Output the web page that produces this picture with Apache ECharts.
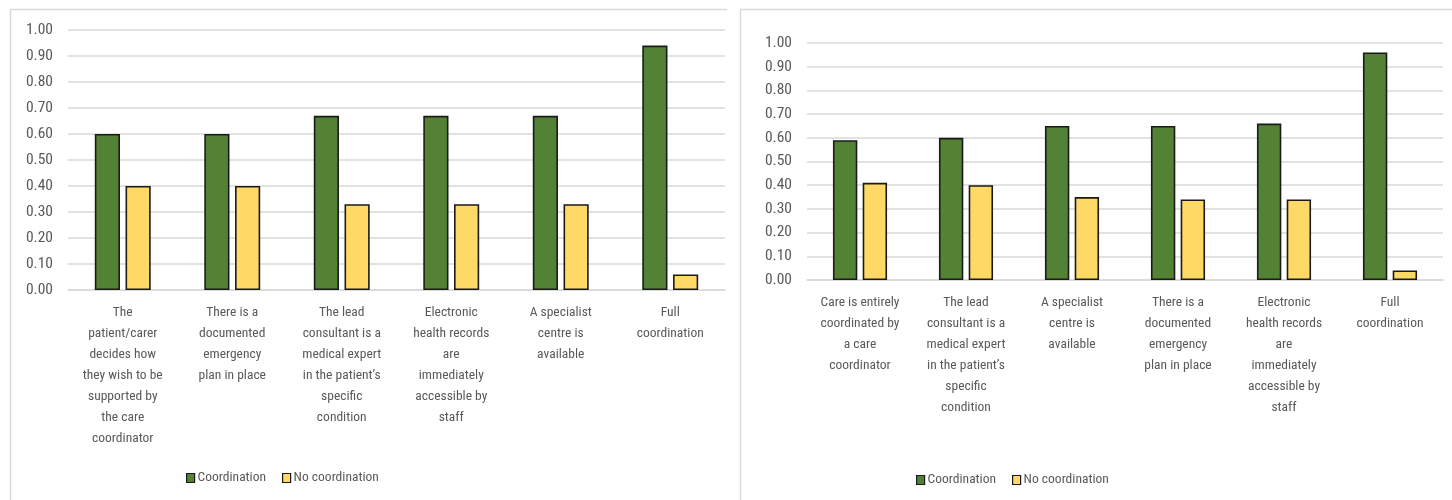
<!DOCTYPE html>
<html>
<head>
<meta charset="utf-8">
<script src="https://cdn.jsdelivr.net/npm/echarts@6/dist/echarts.min.js"></script>
<style>
  html, body { margin: 0; padding: 0; background: #ffffff; }
  #chart { width: 1452px; height: 500px; }
</style>
</head>
<body>
<div id="chart"></div>
<script>
// Left panel: service features ordered by share of coordinated care
const leftCategories = [
  'The\npatient/carer\ndecides how\nthey wish to be\nsupported by\nthe care\ncoordinator',
  'There is a\ndocumented\nemergency\nplan in place',
  'The lead\nconsultant is a\nmedical expert\nin the patient\u2019s\nspecific\ncondition',
  'Electronic\nhealth records\nare\nimmediately\naccessible by\nstaff',
  'A specialist\ncentre is\navailable',
  'Full\ncoordination'
];
const leftCoordination = [0.60, 0.60, 0.67, 0.67, 0.67, 0.94];
const leftNoCoordination = [0.40, 0.40, 0.33, 0.33, 0.33, 0.06];

// Right panel
const rightCategories = [
  'Care is entirely\ncoordinated by\na care\ncoordinator',
  'The lead\nconsultant is a\nmedical expert\nin the patient\u2019s\nspecific\ncondition',
  'A specialist\ncentre is\navailable',
  'There is a\ndocumented\nemergency\nplan in place',
  'Electronic\nhealth records\nare\nimmediately\naccessible by\nstaff',
  'Full\ncoordination'
];
const rightCoordination = [0.59, 0.60, 0.65, 0.65, 0.66, 0.96];
const rightNoCoordination = [0.41, 0.40, 0.35, 0.34, 0.34, 0.04];

const seriesNames = ['Coordination', 'No coordination'];

const GREEN = '#548235';
const YELLOW = '#ffd966';
const EDGE = '#1a1a1a';
const TEXT = '#595959';
const GRID_LINE = '#d9d9d9';
const FONT = "'Liberation Sans Narrow', 'Roboto Condensed', 'Liberation Sans', sans-serif";

function xAxisFor(cats, gridIndex) {
  return {
    type: 'category', gridIndex: gridIndex, data: cats,
    axisLine: { show: true, lineStyle: { color: GRID_LINE, width: 1.5 } },
    axisTick: { show: false },
    axisLabel: {
      color: TEXT, fontFamily: FONT, fontSize: 13.5, lineHeight: 21,
      margin: 12, interval: 0, align: 'center'
    }
  };
}

function yAxisFor(gridIndex) {
  return {
    type: 'value', gridIndex: gridIndex, min: 0, max: 1, interval: 0.1,
    axisLine: { show: false }, axisTick: { show: false },
    splitLine: { lineStyle: { color: GRID_LINE, width: 1.5 } },
    axisLabel: {
      color: TEXT, fontFamily: FONT, fontSize: 15.5, margin: 15,
      formatter: v => v.toFixed(2)
    }
  };
}

function barSeries(name, data, color, axisIndex) {
  return {
    name: name, type: 'bar', data: data,
    xAxisIndex: axisIndex, yAxisIndex: axisIndex,
    barWidth: '23%', barGap: '22%',
    itemStyle: { color: color, borderColor: EDGE, borderWidth: 1.6 }
  };
}

function legendAt(left, top) {
  return {
    data: seriesNames, left: left, top: top,
    icon: 'rect', itemWidth: 8, itemHeight: 9, itemGap: 16,
    itemStyle: { borderColor: EDGE, borderWidth: 1.2 },
    textStyle: { color: TEXT, fontFamily: FONT, fontSize: 13.5, padding: [0, 0, 0, -2] }
  };
}

const chart = echarts.init(document.getElementById('chart'), null, { renderer: 'canvas' });

chart.setOption({
  animation: false,
  backgroundColor: '#ffffff',
  grid: [
    { left: 68, top: 30, width: 657, height: 260 },
    { left: 807, top: 43, width: 636, height: 237 }
  ],
  xAxis: [xAxisFor(leftCategories, 0), xAxisFor(rightCategories, 1)],
  yAxis: [yAxisFor(0), yAxisFor(1)],
  legend: [legendAt(181, 466), legendAt(911, 468)],
  series: [
    barSeries(seriesNames[0], leftCoordination, GREEN, 0),
    barSeries(seriesNames[1], leftNoCoordination, YELLOW, 0),
    barSeries(seriesNames[0], rightCoordination, GREEN, 1),
    barSeries(seriesNames[1], rightNoCoordination, YELLOW, 1)
  ],
  graphic: [
    // panel frames (top and left edges)
    { type: 'polyline', shape: { points: [[10.5, 500], [10.5, 9.5], [727, 9.5]] },
      style: { stroke: '#d9d9d9', fill: null, lineWidth: 1.5 }, silent: true },
    { type: 'polyline', shape: { points: [[740.5, 500], [740.5, 9.5], [1452, 9.5]] },
      style: { stroke: '#d9d9d9', fill: null, lineWidth: 1.5 }, silent: true }
  ]
});
</script>
</body>
</html>
